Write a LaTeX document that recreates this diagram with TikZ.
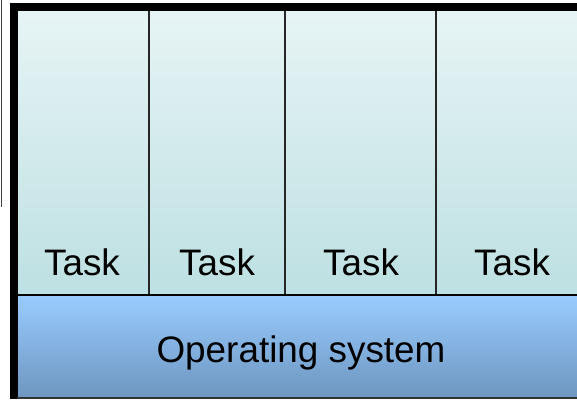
\documentclass[tikz,border=0pt]{standalone}
\usepackage{fontspec}
\setmainfont{Liberation Sans}
\usetikzlibrary{positioning}
\definecolor{taskTop}{RGB}{231,244,245}
\definecolor{taskBot}{RGB}{189,224,226}
\definecolor{osTop}{RGB}{153,204,255}
\definecolor{osBot}{RGB}{110,150,192}

\begin{document}
\begin{tikzpicture}[x=1bp,y=-1bp,
    label node/.style={font=\fontsize{37}{40}\selectfont,anchor=base,inner sep=0pt},
    divider/.style={line width=2bp,black!85}]

    \useasboundingbox (0,0) rectangle (577,399);

    % layers
    \shade[top color=taskTop,bottom color=taskBot] (17,11) rectangle (592,295);
    \shade[top color=osTop,bottom color=osBot] (17,295) rectangle (592,397);

    % task columns
    \draw[divider] (149,11) -- (149,295);
    \draw[divider] (285,11) -- (285,295);
    \draw[divider] (436,11) -- (436,295);
    \draw[line width=2.5bp,black] (17,295) -- (592,295);

    % frame
    \draw[line width=8bp] (13.5,399) -- (13.5,7) -- (592,7);
    \draw[line width=2.5bp,black!80] (17,398) -- (592,398);
    \draw[line width=1.5bp,black!75] (1.5,0) -- (1.5,207);

    \node[label node] (task1) at (82,275) {Task};
    \node[label node] (task2) at (217,275) {Task};
    \node[label node] (task3) at (361,275) {Task};
    \node[label node] (task4) at (512,275) {Task};
    \node[label node] (os) at (301,362) {Operating system};
\end{tikzpicture}
\end{document}
